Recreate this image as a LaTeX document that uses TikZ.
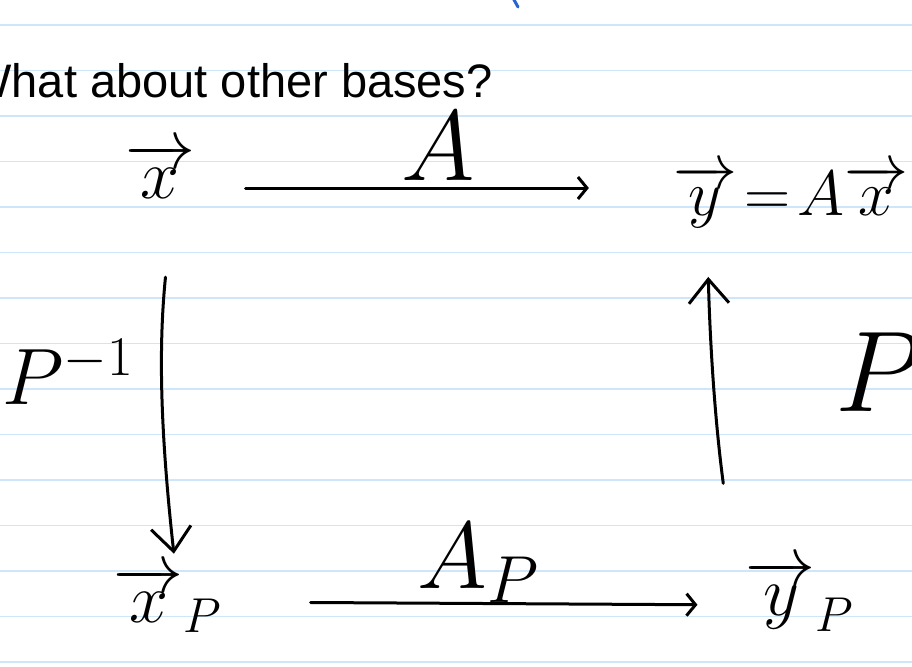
\RequirePackage{fix-cm}
\documentclass[tikz,border=0pt]{standalone}
\usepackage{fontspec}
\setmainfont{Liberation Sans}
\usetikzlibrary{arrows.meta}

\definecolor{ruleblue}{RGB}{205,230,250}
\definecolor{penblue}{RGB}{40,100,210}

\begin{document}
\begin{tikzpicture}[x=1pt, y=-1pt, line width=3pt, line cap=round, line join=round,
  vecnode/.style={inner sep=2pt, anchor=base, font=\fontsize{70}{84}\selectfont},
  maplabel/.style={inner sep=0pt, font=\fontsize{100}{120}\selectfont},
  flatmap/.style={-{Straight Barb[length=9pt,width=22pt,line width=3pt]}},
  tallmap/.style={-{Straight Barb[length=24pt,width=40pt,line width=3pt]}}]

  %% ════ ruled paper ════
  \foreach \k in {0,...,14}
    \draw[ruleblue, line width=1.6pt] (0,25+45.5*\k) -- (912,25+45.5*\k);
  \draw[penblue] (513,-2) -- (518,7);

  %% ════ heading ════
  \node[anchor=base west, inner sep=0pt, font=\fontsize{47}{56}\selectfont] (title) at (-34,98) {What about other bases?};

  %% ════ the four vectors ════
  \node[vecnode] (x)  at (160,198) {$\overrightarrow{x}$};
  \node[vecnode, font=\fontsize{64}{77}\selectfont] (y) at (791,215) {$\overrightarrow{y}\mkern2mu{=}\mkern2mu A\overrightarrow{x}$};
  \node[vecnode] (xp) at (168,622) {$\overrightarrow{x}_{P}$};
  \node[vecnode] (yp) at (800,615) {$\overrightarrow{y}_{P}$};

  %% ════ maps ════
  \draw[flatmap, shorten <=47pt, shorten >=81pt] ([yshift=10pt]x.base east) -- ([yshift=10pt]x.base east -| y.west);
  \draw[flatmap, shorten <=85pt, shorten >=45pt] ([yshift=20pt]xp.base east) -- ([yshift=17pt]xp.base east -| yp.west);
  \draw[tallmap, shorten <=76pt, shorten >=10pt] ([xshift=13pt]x.south) to[bend right=6] ([xshift=7pt]xp.north);
  \draw[tallmap, shorten <=74pt, shorten >=46pt] ([xshift=-67pt]yp.north) to[bend left=3] ([xshift=-84pt]y.south);

  %% ════ map labels ════
  \node[maplabel] (a)    at (438,146) {$A$};
  \node[maplabel, font=\fontsize{80}{96}\selectfont] (pinv) at (68,372) {$P^{-1}$};
  \node[maplabel, font=\fontsize{95}{114}\selectfont] (ap)   at (478,563) {$A_{P}$};
  \node[maplabel, font=\fontsize{115}{138}\selectfont] (p)  at (880,372) {$P$};

  \pgfresetboundingbox
  \path[use as bounding box] (0,0) rectangle (912,666);
\end{tikzpicture}
\end{document}
